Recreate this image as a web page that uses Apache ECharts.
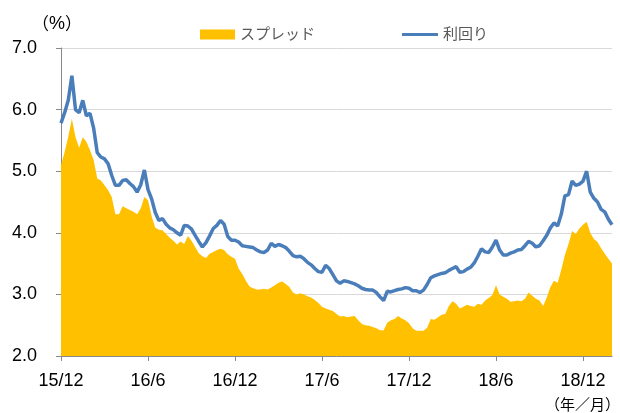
<!DOCTYPE html>
<html>
<head>
<meta charset="utf-8">
<script src="https://cdn.jsdelivr.net/npm/echarts@6/dist/echarts.min.js"></script>
<style>
  html, body { margin: 0; padding: 0; background: #fff; }
  #main { width: 620px; height: 413px; }
</style>
</head>
<body>
<div id="main"></div>
<script>
// x-axis tick labels (every 6 months from 2015/12)
var tickLabels = ['15/12', '16/6', '16/12', '17/6', '17/12', '18/6', '18/12'];
// one sample per quarter month, starting 2015/12
var stepMonths = 0.25;

// spread (%)
var spread = [
  5.10, 5.31, 5.56, 5.85, 5.55, 5.38, 5.55, 5.48, 5.34, 5.18,
  4.88, 4.85, 4.77, 4.69, 4.58, 4.30, 4.30, 4.43, 4.40, 4.37,
  4.34, 4.30, 4.40, 4.58, 4.53, 4.27, 4.08, 4.05, 4.04, 3.98,
  3.92, 3.87, 3.81, 3.86, 3.82, 3.95, 3.87, 3.77, 3.67, 3.62,
  3.59, 3.66, 3.69, 3.72, 3.74, 3.72, 3.65, 3.61, 3.58, 3.42,
  3.33, 3.22, 3.13, 3.10, 3.08, 3.08, 3.09, 3.08, 3.11, 3.15,
  3.19, 3.21, 3.17, 3.12, 3.03, 3.00, 3.02, 3.00, 2.97, 2.95,
  2.91, 2.86, 2.80, 2.77, 2.75, 2.73, 2.68, 2.64, 2.65, 2.63,
  2.64, 2.65, 2.58, 2.52, 2.50, 2.49, 2.47, 2.45, 2.42, 2.42,
  2.54, 2.58, 2.60, 2.65, 2.61, 2.58, 2.53, 2.45, 2.41, 2.41,
  2.41, 2.46, 2.60, 2.59, 2.63, 2.67, 2.68, 2.81, 2.89, 2.85,
  2.77, 2.80, 2.83, 2.81, 2.80, 2.85, 2.83, 2.90, 2.94, 2.99,
  3.15, 3.00, 2.96, 2.93, 2.88, 2.89, 2.90, 2.89, 2.93, 3.03,
  2.98, 2.93, 2.90, 2.81, 2.95, 3.12, 3.22, 3.19, 3.40, 3.64,
  3.82, 4.03, 3.98, 4.07, 4.13, 4.18, 4.00, 3.90, 3.85, 3.75,
  3.66, 3.58, 3.50
];

// yield (%)
var yieldRate = [
  5.78, 5.95, 6.15, 6.55, 6.00, 5.95, 6.15, 5.90, 5.94, 5.70,
  5.30, 5.23, 5.20, 5.12, 4.93, 4.77, 4.77, 4.85, 4.86, 4.80,
  4.75, 4.66, 4.78, 5.02, 4.70, 4.55, 4.33, 4.20, 4.23, 4.14,
  4.08, 4.05, 4.00, 3.96, 4.12, 4.11, 4.06, 3.96, 3.86, 3.77,
  3.84, 3.95, 4.07, 4.12, 4.20, 4.14, 3.94, 3.88, 3.88, 3.85,
  3.79, 3.78, 3.77, 3.76, 3.72, 3.69, 3.68, 3.72, 3.83, 3.78,
  3.81, 3.79, 3.76, 3.70, 3.63, 3.61, 3.62, 3.58, 3.52, 3.48,
  3.42, 3.37, 3.36, 3.47, 3.42, 3.32, 3.22, 3.18, 3.22, 3.21,
  3.19, 3.17, 3.14, 3.10, 3.08, 3.07, 3.07, 3.03, 2.96, 2.90,
  3.05, 3.04, 3.06, 3.08, 3.09, 3.11, 3.10, 3.06, 3.06, 3.03,
  3.07, 3.16, 3.27, 3.30, 3.32, 3.34, 3.35, 3.39, 3.42, 3.45,
  3.36, 3.37, 3.41, 3.44, 3.51, 3.62, 3.74, 3.69, 3.68, 3.77,
  3.88, 3.72, 3.64, 3.64, 3.67, 3.69, 3.72, 3.73, 3.79, 3.86,
  3.83, 3.77, 3.79, 3.87, 3.96, 4.08, 4.16, 4.11, 4.30, 4.60,
  4.62, 4.84, 4.77, 4.79, 4.84, 5.00, 4.66, 4.56, 4.50, 4.38,
  4.34, 4.22, 4.13
];

document.addEventListener('DOMContentLoaded', function() {
  var myChart = echarts.init(document.getElementById('main'));

  var toPoints = function(arr) {
    return arr.map(function(v, i) { return [i * stepMonths, v]; });
  };
  var font = "'Liberation Sans', 'Noto Sans CJK JP', sans-serif";
  var cjk = "'Noto Sans CJK JP', sans-serif";

  var option = {
    animation: false,
    textStyle: { fontFamily: font },
    grid: { left: 61, right: 8, top: 48, bottom: 57 },
    legend: [
      {
        data: [{ name: 'スプレッド', icon: 'rect' }],
        left: 195, top: 22,
        itemWidth: 35, itemHeight: 10, itemGap: 5,
        textStyle: { fontSize: 15, color: '#595959', fontFamily: font }
      },
      {
        data: [{ name: '利回り', icon: 'rect', itemStyle: { color: '#4A7EBB' } }],
        left: 397, top: 22,
        itemWidth: 36, itemHeight: 3, itemGap: 5,
        textStyle: { fontSize: 15, color: '#595959', fontFamily: font }
      }
    ],
    graphic: [
      {
        type: 'text', left: 32, top: 15,
        style: {
          text: '{p|（}{s|%}{p|）}',
          rich: {
            p: { fontSize: 17, fill: '#000', fontFamily: cjk },
            s: { fontSize: 18, fill: '#000', fontFamily: "'Liberation Sans', sans-serif" }
          }
        }
      },
      { type: 'text', right: 0, top: 397, style: { text: '（年／月）', fontSize: 15, fill: '#000', fontFamily: cjk } }
    ],
    xAxis: {
      type: 'value',
      min: 0, max: 38, interval: 6,
      axisLine: { lineStyle: { color: '#888888' } },
      axisTick: { show: true, length: 5, lineStyle: { color: '#888888' } },
      splitLine: { show: false },
      axisLabel: {
        fontSize: 18, color: '#000', margin: 16, showMaxLabel: false,
        formatter: function(v) { return tickLabels[v / 6] || ''; }
      }
    },
    yAxis: {
      type: 'value',
      min: 2, max: 7, interval: 1,
      axisLine: { show: true, lineStyle: { color: '#888888' } },
      axisTick: { show: true, length: 5, lineStyle: { color: '#888888' } },
      splitLine: { lineStyle: { color: '#D9D9D9', width: 1 } },
      axisLabel: {
        fontSize: 18, color: '#000', margin: 24,
        formatter: function(v) { return v.toFixed(1); }
      }
    },
    series: [
      {
        name: 'スプレッド',
        type: 'line',
        data: toPoints(spread),
        symbol: 'none',
        color: '#FFC000',
        lineStyle: { width: 0 },
        areaStyle: { color: '#FFC000', opacity: 1, origin: 'start' },
        z: 1
      },
      {
        name: '利回り',
        type: 'line',
        data: toPoints(yieldRate),
        symbol: 'none',
        color: '#4A7EBB',
        lineStyle: { width: 3.5, color: '#4A7EBB' },
        z: 2
      }
    ]
  };

  myChart.setOption(option);
});
</script>
</body>
</html>
